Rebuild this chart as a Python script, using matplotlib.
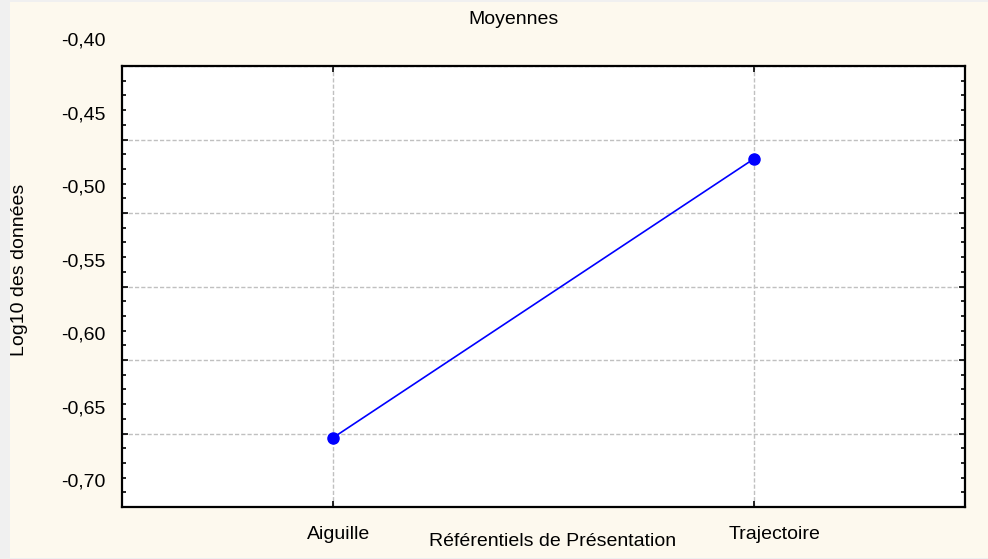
import matplotlib
matplotlib.use('Agg')
import matplotlib.pyplot as plt
from matplotlib.patches import Rectangle
from matplotlib.transforms import ScaledTranslation
from matplotlib.ticker import MultipleLocator

plt.rcParams['font.family'] = ['Liberation Sans', 'DejaVu Sans']

# data
categories = ['Aiguille', 'Trajectoire']
means = [-0.653, -0.463]
yticks = [-0.40, -0.45, -0.50, -0.55, -0.60, -0.65, -0.70]
ytick_labels = ['-0,40', '-0,45', '-0,50', '-0,55', '-0,60', '-0,65', '-0,70']
title = 'Moyennes'
xlabel = 'Référentiels de Présentation'
ylabel = 'Log10 des données'

W, H = 988, 559
fig = plt.figure(figsize=(W / 100, H / 100), dpi=100, facecolor='#f0f0f0')
# cream panel behind the chart
fig.patches.append(Rectangle((10 / W, 1 / H), 1 - 10 / W, 1 - 3 / H,
                             transform=fig.transFigure, facecolor='#fdf9ee',
                             edgecolor='none', zorder=-5))

ax = fig.add_axes([122 / W, (H - 507) / H, (965 - 122) / W, (507 - 66) / H])
ax.set_zorder(2)
ax.set_facecolor('white')

x = list(range(len(categories)))
ax.plot(x, means, color='#0000ff', linewidth=1.2, marker='o', markersize=8,
        zorder=5, clip_on=False)

ax.set_xlim(-0.5, len(categories) - 0.5)
ax.set_ylim(-0.70, -0.40)
ax.set_xticks(x)
ax.set_xticklabels(categories, fontsize=14, ha='left')
ax.set_yticks(yticks)
ax.set_yticklabels(ytick_labels, fontsize=14)
ax.yaxis.set_minor_locator(MultipleLocator(0.01))

ax.grid(True, which='major', color='#c0c0c0', linestyle=(0, (3, 1.5)), linewidth=1)
ax.set_axisbelow(True)

for s in ax.spines.values():
    s.set_linewidth(1.6)
    s.set_color('black')

ax.tick_params(axis='both', which='both', direction='in', top=True, right=True,
               color='black', width=1.2)
ax.tick_params(axis='y', which='major', length=4, pad=12)
ax.tick_params(axis='y', which='minor', length=3)
ax.tick_params(axis='x', which='major', length=4, pad=14)

# Statistica-style label placement
for lab in ax.get_yticklabels():
    lab.set_transform(lab.get_transform() + ScaledTranslation(0, 0.27, fig.dpi_scale_trans))
for lab in ax.get_xticklabels():
    lab.set_transform(lab.get_transform() + ScaledTranslation(-0.26, 0, fig.dpi_scale_trans))

fig.text(513 / W, 1 - 19 / H, title, fontsize=14, ha='center', va='center')
fig.text(553 / W, 1 - 542 / H, xlabel, fontsize=14, ha='center', va='center')
fig.text(20 / W, 1 - 270 / H, ylabel, fontsize=14, ha='center', va='center',
         rotation=90)

fig.savefig('out.png', dpi=100, facecolor=fig.get_facecolor())
